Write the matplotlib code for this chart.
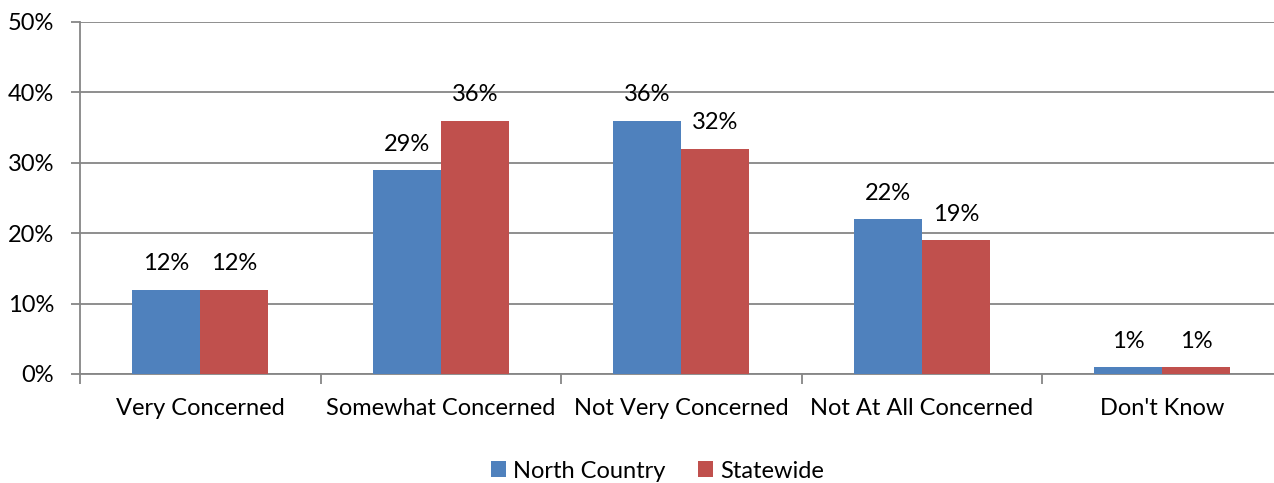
import matplotlib
matplotlib.use("Agg")
import matplotlib.pyplot as plt
import numpy as np

categories = ["Very Concerned", "Somewhat Concerned", "Not Very Concerned", "Not At All Concerned", "Don't Know"]
north_country = [12, 29, 36, 22, 1]
statewide = [12, 36, 32, 19, 1]
series_names = ["North Country", "Statewide"]
yticks = [0, 10, 20, 30, 40, 50]

plt.rcParams['font.family'] = ['Lato', 'DejaVu Sans']
FS = 17
W, H = 1274, 483
fig = plt.figure(figsize=(W/100, H/100), dpi=100)
left = 80/W
bottom = (H-374)/H
top = (H-22)/H
ax = fig.add_axes([left, bottom, 1-left, top-bottom])

x = np.arange(len(categories))
bw = 68/240.5
c1, c2 = "#4F81BD", "#C0504D"
b1 = ax.bar(x - bw/2, north_country, bw, color=c1, label=series_names[0], zorder=3)
b2 = ax.bar(x + bw/2, statewide, bw, color=c2, label=series_names[1], zorder=3)
for bars, vals in ((b1, north_country), (b2, statewide)):
    for r, v in zip(bars, vals):
        ax.annotate(f"{v}%", (r.get_x()+r.get_width()/2, v), xytext=(0, 11),
                    textcoords="offset points", ha="center", va="bottom", fontsize=FS)

ax.set_yticks(yticks)
ax.set_yticklabels([f"{t}%" for t in yticks], fontsize=FS)
ax.yaxis.grid(True, color="#868686", linewidth=1.3, zorder=0)
ax.set_axisbelow(True)
ax.set_xticks(np.arange(len(categories)+1) - 0.5, minor=False)
ax.set_xticklabels([])
ax.set_xticks(x, minor=True)
ax.set_xticklabels(categories, minor=True, fontsize=FS)
ax.set_xlim(-0.5, -0.5 + (W-80)/240.5)
ax.set_ylim(0, 50)
ax.tick_params(axis='x', which='minor', length=0, pad=17)
ax.tick_params(axis='x', which='major', length=7, width=1.3, color="#868686")
ax.tick_params(axis='y', length=6.5, width=1.3, color="#868686", pad=12)
for s in ["top", "right"]:
    ax.spines[s].set_visible(False)
for s in ["left", "bottom"]:
    ax.spines[s].set_color("#868686")
    ax.spines[s].set_linewidth(1.3)

fig.legend(handles=[b1, b2], labels=series_names, loc="center", bbox_to_anchor=(657.5/W, 12/H),
           ncol=2, frameon=False, fontsize=FS, handlelength=0.64, handleheight=0.64,
           handletextpad=0.3, columnspacing=1.36)
fig.savefig("out.png", dpi=100)
